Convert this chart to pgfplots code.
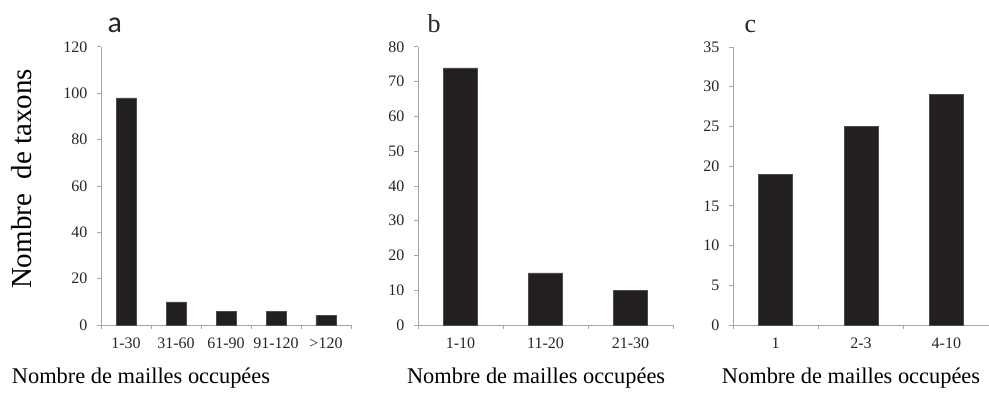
\documentclass[border=0pt]{standalone}
\usepackage{fontspec}
\setmainfont{Liberation Serif}
\newfontfamily\panelsans{Carlito}
\usepackage{pgfplots}
\pgfplotsset{compat=1.18}
\definecolor{barc}{HTML}{231F20}
\definecolor{axc}{HTML}{A6A6A6}
\pgfplotsset{
  panel/.style={
    scale only axis,
    axis x line*=bottom,
    axis y line*=left,
    axis line style={draw=axc, line width=1bp},
    every tick/.style={draw=axc, line width=1bp},
    tick align=outside,
    major tick length=4bp,
    enlargelimits=false,
    ymin=0,
    x tick label as interval,
    tick label style={font=\fontsize{16bp}{18bp}\selectfont, text=black!85},
    xticklabel style={yshift=-5bp},
    yticklabel style={xshift=-6bp},
    /pgf/number format/assume math mode=true,
    xlabel style={font=\fontsize{22.4bp}{25bp}\selectfont, anchor=center},
    ybar,
    height=278bp,
  },
}
\begin{document}
\begin{tikzpicture}[x=1bp,y=1bp]
\path[use as bounding box] (0,0) rectangle (989,392);
% panel a
\begin{axis}[panel,
  at={(101bp,67bp)}, anchor=south west,
  width=250bp,
  xmin=-0.5, xmax=4.5,
  xtick={-0.5,0.5,1.5,2.5,3.5,4.5},
  xticklabels={1-30,31-60,61-90,91-120,>120},
  ymax=120, ytick={0,20,...,120},
  bar width=20bp,
  xlabel={Nombre de mailles occup\'ees},
  xlabel style={at={(axis description cs:0.16,-0.19)}},
  ylabel={Nombre\ \ de taxons},
  ylabel style={font=\fontsize{29bp}{32bp}\selectfont, at={(axis description cs:-0.316,0.525)}, anchor=center},
]
\addplot[fill=barc, draw=black!70, line width=0.5bp] coordinates {(0,98) (1,10) (2,6) (3,6) (4,4)};
\end{axis}
\node[anchor=base west, font=\panelsans\fontsize{30bp}{32bp}\selectfont, text=black!85] at (104,360) {a};
% panel b
\begin{axis}[panel,
  at={(418bp,67bp)}, anchor=south west,
  width=255bp,
  xmin=-0.5, xmax=2.5,
  xtick={-0.5,0.5,1.5,2.5},
  xticklabels={1-10,11-20,21-30},
  ymax=80, ytick={0,10,...,80},
  bar width=34bp,
  xlabel={Nombre de mailles occup\'ees},
  xlabel style={at={(axis description cs:0.463,-0.19)}},
]
\addplot[fill=barc, draw=black!70, line width=0.5bp] coordinates {(0,74) (1,15) (2,10)};
\end{axis}
\node[anchor=base west, font=\fontsize{26bp}{28bp}\selectfont, text=black!85] at (424,360) {b};
% panel c
\begin{axis}[panel,
  at={(733bp,67bp)}, anchor=south west,
  width=256bp,
  xmin=-0.5, xmax=2.5,
  xtick={-0.5,0.5,1.5,2.5},
  xticklabels={1,2-3,4-10},
  ymax=35, ytick={0,5,...,35},
  bar width=34bp,
  xlabel={Nombre de mailles occup\'ees},
  xlabel style={at={(axis description cs:0.461,-0.19)}},
]
\addplot[fill=barc, draw=black!70, line width=0.5bp] coordinates {(0,19) (1,25) (2,29)};
\end{axis}
\node[anchor=base west, font=\fontsize{26bp}{28bp}\selectfont, text=black!85] at (741,360) {c};
\end{tikzpicture}
\end{document}
